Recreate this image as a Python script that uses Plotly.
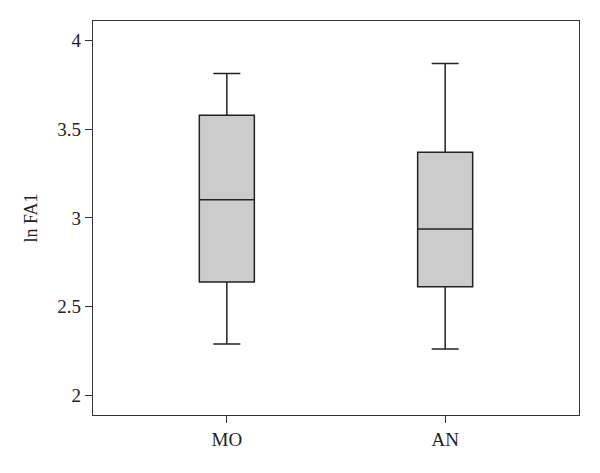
import plotly.graph_objects as go

# Box summary values
groups = ['MO', 'AN']
lower_whisker = [2.29, 2.262]
q1 = [2.639, 2.613]
median = [3.102, 2.937]
q3 = [3.578, 3.370]
upper_whisker = [3.813, 3.869]

y_ticks = [2, 2.5, 3, 3.5, 4]
y_tick_labels = ['2', '2.5', '3', '3.5', '4']

serif = 'Liberation Serif'

fig = go.Figure()

fig.add_trace(go.Box(
    x=groups,
    q1=q1,
    median=median,
    q3=q3,
    lowerfence=lower_whisker,
    upperfence=upper_whisker,
    fillcolor='#cccccc',
    line=dict(color='#222222', width=1.5),
    whiskerwidth=0.49,
    boxpoints=False,
    showlegend=False,
    hoverinfo='skip',
))

# page body has an 8px margin, so the margins are shifted to compensate
fig.update_layout(
    width=600,
    height=473,
    margin=dict(l=85, r=29, t=13, b=66, autoexpand=False),
    paper_bgcolor='white',
    plot_bgcolor='white',
    boxgap=0.748,
    boxgroupgap=0,
    font=dict(family=serif, size=19, color='#222222'),
)

fig.update_xaxes(
    range=[-0.613, 1.613],
    showline=True,
    linecolor='#333333',
    linewidth=1.3,
    mirror=True,
    ticks='outside',
    ticklen=7,
    tickcolor='#333333',
    showgrid=False,
    zeroline=False,
    tickfont=dict(family=serif, size=19),
)

fig.update_yaxes(
    range=[1.89, 4.109],
    tickvals=y_ticks,
    ticktext=y_tick_labels,
    showline=True,
    linecolor='#333333',
    linewidth=1.3,
    mirror=True,
    ticks='outside',
    ticklen=7,
    tickcolor='#333333',
    showgrid=False,
    zeroline=False,
    tickfont=dict(family=serif, size=19),
    title=dict(text='ln FA1', font=dict(family=serif, size=18), standoff=14),
)

fig.write_html('out.html')
